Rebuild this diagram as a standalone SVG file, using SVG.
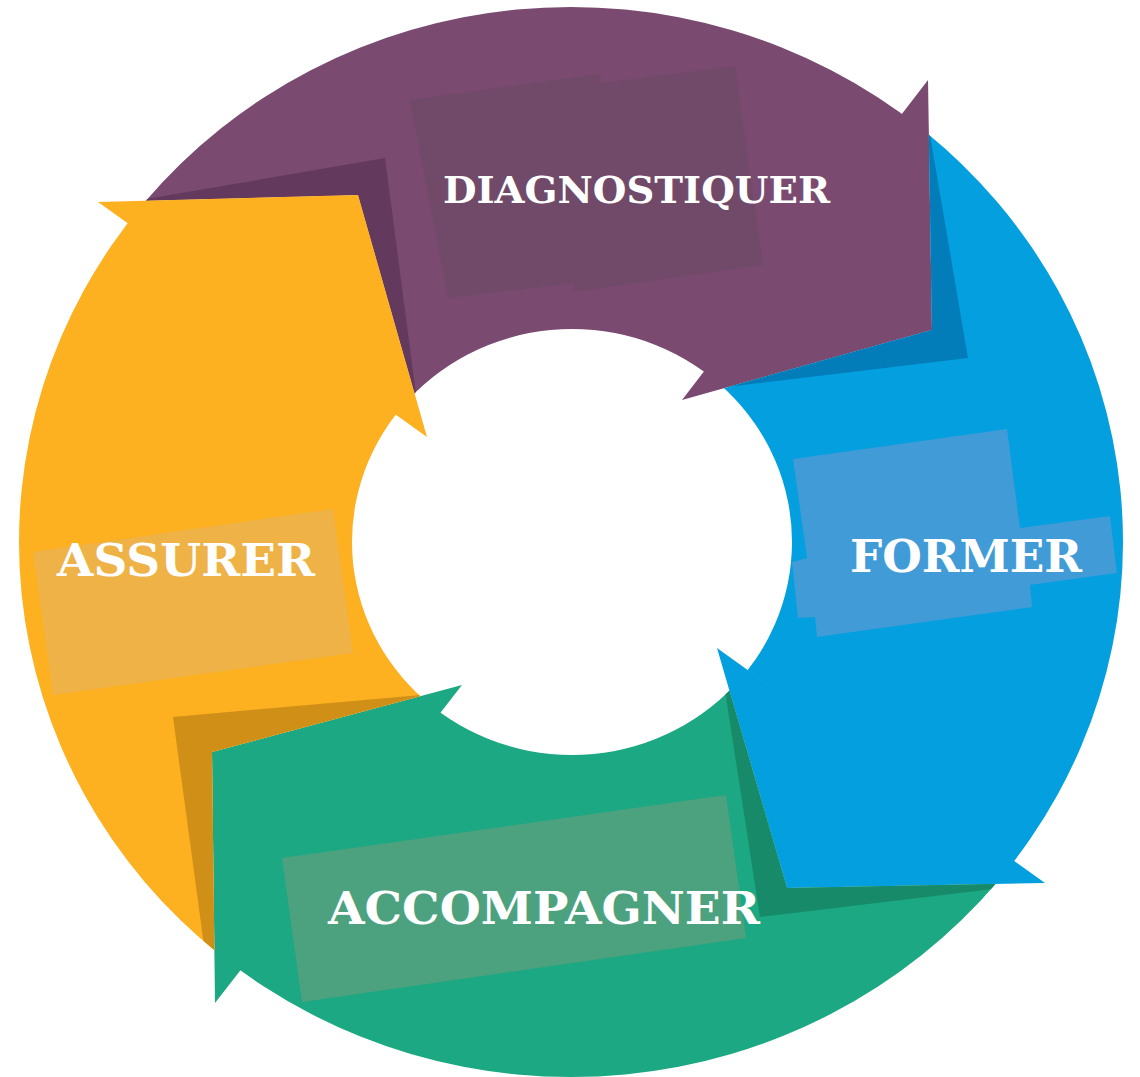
<svg xmlns="http://www.w3.org/2000/svg" width="1140" height="1077" viewBox="0 0 1140 1077">
  <style>
    .lbl { font-family: "DejaVu Serif", "Liberation Serif", serif; font-weight: bold; fill: #ffffff; }
    .ring { fill-rule: evenodd; }
  </style>
  <defs>
    <!-- the ring: outer and inner ellipse, even-odd -->
    <path id="annulus" class="ring" d="M19,542 a552,535 0 1,0 1104,0 a552,535 0 1,0 -1104,0 Z M352,542 a220,213 0 1,0 440,0 a220,213 0 1,0 -440,0 Z"/>
    <clipPath id="ring-clip">
      <path clip-rule="evenodd" d="M19,542 a552,535 0 1,0 1104,0 a552,535 0 1,0 -1104,0 Z M352,542 a220,213 0 1,0 440,0 a220,213 0 1,0 -440,0 Z"/>
    </clipPath>
    <!-- sector of each stage, leaving out the head of the stage before it -->
    <clipPath id="wedge-diag"><polygon points="573,543 427,437 358,195 98,202 -376,-138 572,-800 1285,-381"/></clipPath>
    <clipPath id="wedge-former"><polygon points="571,543 682,400 932,330 928,80 1284,-382 1900,542 1517,1225"/></clipPath>
    <clipPath id="wedge-accomp"><polygon points="571,541 717,648 787,888 1045,883 1518,1224 572,1900 -143,1463"/></clipPath>
    <clipPath id="wedge-assurer"><polygon points="573,541 462,685 212,752 215,1003 -142,1464 -800,542 -375,-139"/></clipPath>
  </defs>

  <!-- DIAGNOSTIQUER -->
  <g id="diagnostiquer">
    <g clip-path="url(#wedge-diag)">
      <use href="#annulus" fill="#7A4A70"/>
      <polygon clip-path="url(#ring-clip)" fill="#633A5D" points="60,214 385,158 443,600 60,600"/>
    </g>
    <polygon fill="#7A4A70" points="928,80 932,330 682,400"/>
    <polygon fill="#704A68" points="410,100 600,74 601,83 735,66 763,265 573,292 574,283 448,298"/>
    <text class="lbl" x="443" y="203" font-size="37" textLength="387" lengthAdjust="spacingAndGlyphs">DIAGNOSTIQUER</text>
  </g>

  <!-- FORMER -->
  <g id="former">
    <g clip-path="url(#wedge-former)">
      <use href="#annulus" fill="#039FDF"/>
      <polygon clip-path="url(#ring-clip)" fill="#027DBA" points="907,0 968,358 600,402 600,0"/>
    </g>
    <polygon fill="#039FDF" points="717,648 787,888 1045,883"/>
    <polygon fill="#409BD7" points="793,459 1007,429 1020,528 1110,516 1117,573 1030,585 1032,607 817,637 815,617 798,618 792,562 807,558"/>
    <text class="lbl" x="850" y="572" font-size="45" textLength="232" lengthAdjust="spacingAndGlyphs">FORMER</text>
  </g>

  <!-- ACCOMPAGNER -->
  <g id="accompagner">
    <g clip-path="url(#wedge-accomp)">
      <use href="#annulus" fill="#1BA882"/>
      <polygon clip-path="url(#ring-clip)" fill="#178A69" points="711,600 760,917 1200,864 1200,600"/>
    </g>
    <polygon fill="#1BA882" points="462,685 212,752 215,1003"/>
    <polygon fill="#4CA27F" points="282,858 726,795 746,938 302,1002"/>
    <text class="lbl" x="328" y="924" font-size="44" textLength="432" lengthAdjust="spacingAndGlyphs">ACCOMPAGNER</text>
  </g>

  <!-- ASSURER -->
  <g id="assurer">
    <g clip-path="url(#wedge-assurer)">
      <use href="#annulus" fill="#FDB020"/>
      <polygon clip-path="url(#ring-clip)" fill="#D09018" points="600,679 173,717 225,1100 600,1100"/>
    </g>
    <polygon fill="#FDB020" points="98,202 358,195 427,437"/>
    <polygon fill="#EFB246" points="33,552 333,509 353,653 53,695"/>
    <text class="lbl" x="57" y="576" font-size="45" textLength="258" lengthAdjust="spacingAndGlyphs">ASSURER</text>
  </g>
</svg>
